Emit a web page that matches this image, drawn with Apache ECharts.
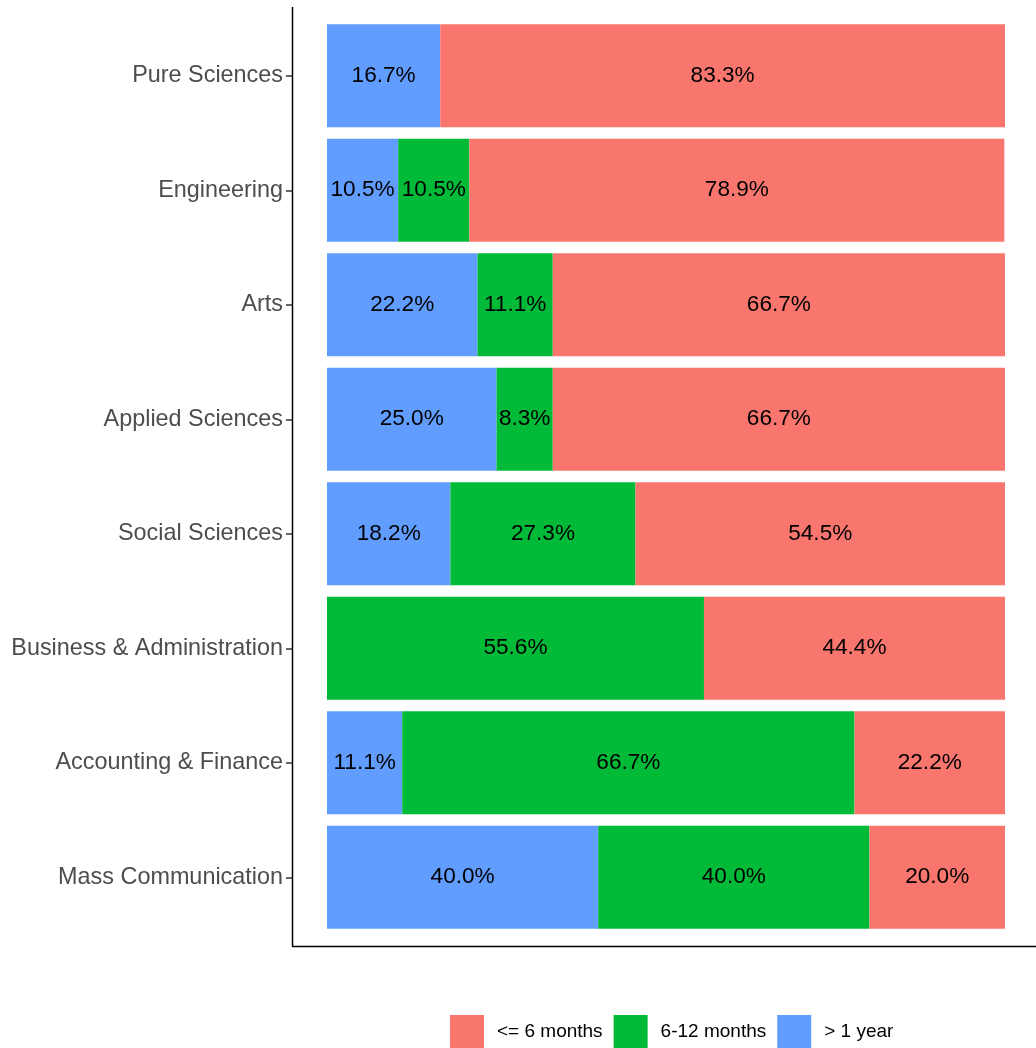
<!DOCTYPE html>
<html>
<head>
<meta charset="utf-8">
<script src="https://cdn.jsdelivr.net/npm/echarts@6/dist/echarts.min.js"></script>
<style>html,body{margin:0;padding:0;background:#fff;}#c{width:1036px;height:1048px;}</style>
</head>
<body>
<div id="c"></div>
<script>
const categories = ['Pure Sciences','Engineering','Arts','Applied Sciences','Social Sciences','Business & Administration','Accounting & Finance','Mass Communication'];
const seriesNames = ['<= 6 months','6-12 months','> 1 year'];
const overOneYear = [16.7, 10.5, 22.2, 25.0, 18.2, 0, 11.1, 40.0];
const sixToTwelve = [0, 10.5, 11.1, 8.3, 27.3, 55.6, 66.7, 40.0];
const upToSix = [83.3, 78.9, 66.7, 66.7, 54.5, 44.4, 22.2, 20.0];

const chart = echarts.init(document.getElementById('c'), null, {renderer:'canvas'});
const font = "'Liberation Sans', Arial, sans-serif";
function mk(name, data, color){
  return {
    name, type:'bar', stack:'total', data, barCategoryGap:'10%',
    itemStyle:{color},
    label:{show:true, position:'inside', color:'#000', fontSize:22.6, fontFamily:font, padding:[4,0,0,0],
      formatter:p => p.value > 0 ? p.value.toFixed(1) + '%' : ''},
    emphasis:{disabled:true}
  };
}
chart.setOption({
  animation:false,
  backgroundColor:'#fff',
  grid:{left:292, right:0, top:18.5, bottom:113.5, containLabel:false},
  xAxis:{type:'value', min:-5.16, max:104.57, show:false},
  yAxis:{type:'category', data:categories, inverse:true,
    axisLine:{show:false, onZero:false},
    axisTick:{show:true, alignWithLabel:true, length:6, lineStyle:{color:'#333', width:1.5}},
    axisLabel:{color:'#4d4d4d', fontSize:23.4, fontFamily:font, margin:9, padding:[4,0,0,0]},
    splitLine:{show:false}},
  legend:{data:seriesNames, top:1015, left:450, padding:0, itemWidth:34, itemHeight:34, itemGap:11, icon:'rect',
    textStyle:{fontSize:19, fontFamily:font, color:'#000', padding:[2,0,0,8]}},
  graphic:[
    {type:'line', shape:{x1:292.5, y1:7, x2:292.5, y2:946.5}, style:{stroke:'#000', lineWidth:1.5}, z:100},
    {type:'line', shape:{x1:292, y1:946.5, x2:1036, y2:946.5}, style:{stroke:'#000', lineWidth:1.5}, z:100}
  ],
  series:[
    mk('> 1 year', overOneYear, '#619CFF'),
    mk('6-12 months', sixToTwelve, '#00BA38'),
    mk('<= 6 months', upToSix, '#F8766D')
  ]
});
</script>
</body>
</html>
